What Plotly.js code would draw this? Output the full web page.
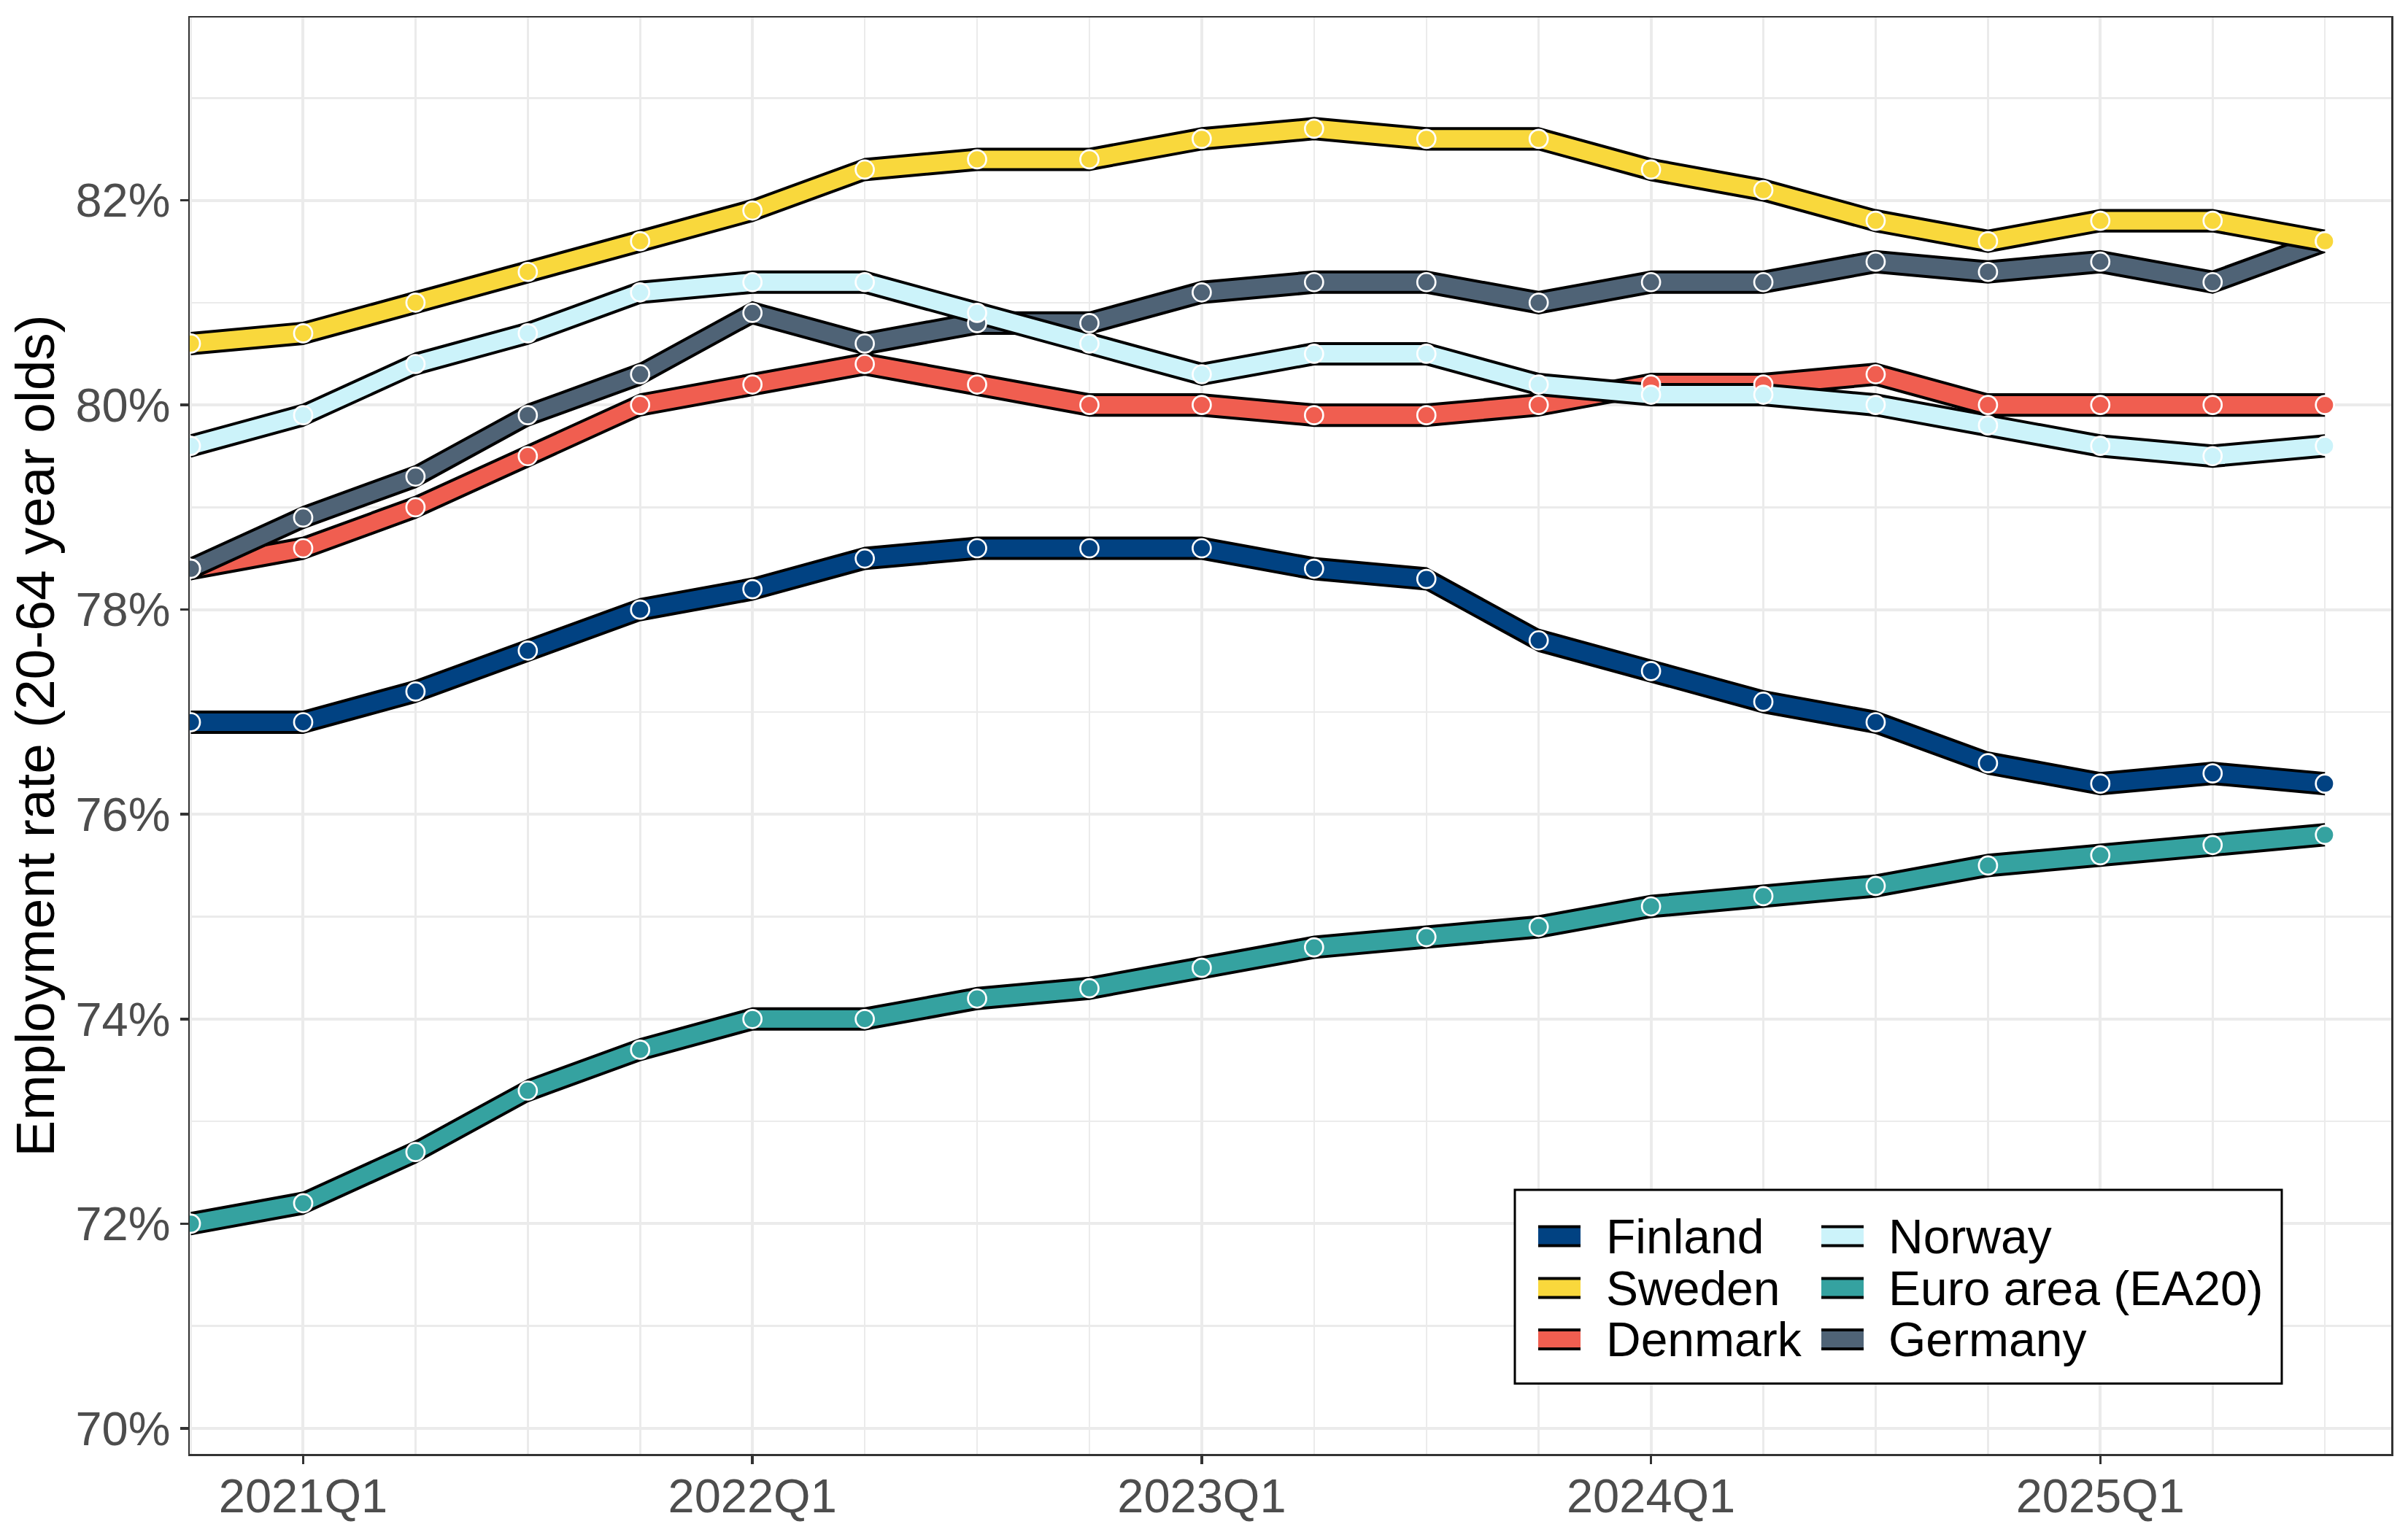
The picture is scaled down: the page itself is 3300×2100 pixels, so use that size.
<!DOCTYPE html>
<html>
<head>
<meta charset="utf-8">
<script src="https://cdn.plot.ly/plotly-3.0.1.min.js"></script>
<style>
  html, body { margin: 0; padding: 0; background: #ffffff; }
  #chart { width: 3300px; height: 2100px; }
</style>
</head>
<body>
<div id="chart"></div>
<script>
// ---------------- data ----------------
const quarters = ['2020Q4','2021Q1','2021Q2','2021Q3','2021Q4',
                  '2022Q1','2022Q2','2022Q3','2022Q4',
                  '2023Q1','2023Q2','2023Q3','2023Q4',
                  '2024Q1','2024Q2','2024Q3','2024Q4',
                  '2025Q1','2025Q2','2025Q3'];
const tickQuarters = ['2021Q1','2022Q1','2023Q1','2024Q1','2025Q1'];
const yTickValues = [70, 72, 74, 76, 78, 80, 82];
const yTickLabels = ['70%','72%','74%','76%','78%','80%','82%'];

const seriesNames = ['Finland','Sweden','Denmark','Norway','Euro area (EA20)','Germany'];
const finland = [76.9,76.9,77.2,77.6,78.0,78.2,78.5,78.6,78.6,78.6,78.4,78.3,77.7,77.4,77.1,76.9,76.5,76.3,76.4,76.3];
const sweden  = [80.6,80.7,81.0,81.3,81.6,81.9,82.3,82.4,82.4,82.6,82.7,82.6,82.6,82.3,82.1,81.8,81.6,81.8,81.8,81.6];
const denmark = [78.4,78.6,79.0,79.5,80.0,80.2,80.4,80.2,80.0,80.0,79.9,79.9,80.0,80.2,80.2,80.3,80.0,80.0,80.0,80.0];
const norway  = [79.6,79.9,80.4,80.7,81.1,81.2,81.2,80.9,80.6,80.3,80.5,80.5,80.2,80.1,80.1,80.0,79.8,79.6,79.5,79.6];
const euroArea = [72.0,72.2,72.7,73.3,73.7,74.0,74.0,74.2,74.3,74.5,74.7,74.8,74.9,75.1,75.2,75.3,75.5,75.6,75.7,75.8];
const germany = [78.4,78.9,79.3,79.9,80.3,80.9,80.6,80.8,80.8,81.1,81.2,81.2,81.0,81.2,81.2,81.4,81.3,81.4,81.2,81.6];

const seriesValues = {
  'Finland': finland, 'Sweden': sweden, 'Denmark': denmark,
  'Norway': norway, 'Euro area (EA20)': euroArea, 'Germany': germany
};
const seriesColors = {
  'Finland': '#014282', 'Sweden': '#F9D83C', 'Denmark': '#F05E50',
  'Norway': '#CCF3FA', 'Euro area (EA20)': '#35A2A0', 'Germany': '#4F6376'
};
// drawing order (alphabetical, as in the source)
const drawOrder = ['Denmark','Euro area (EA20)','Finland','Germany','Norway','Sweden'];

// ---------------- styling ----------------
const FONT = 'Liberation Sans, Arial, Helvetica, sans-serif';
const HALF = 0.1;           // half thickness of the band (in % points)
const EDGE_W = 4;
const W = 3300, H = 2100, ML = 260, MR = 23, MT = 24, MB = 107;
const PW = W - ML - MR, PH = H - MT - MB;
const px2x = px => (px - ML) / PW;
const py2y = py => (H - MB - py) / PH;

const xs = quarters.map((q, i) => i);
const traces = [];
drawOrder.forEach(name => {
  const v = seriesValues[name];
  traces.push({
    x: xs, y: v.map(d => d - HALF), mode: 'lines', type: 'scatter',
    line: { color: '#000000', width: EDGE_W }, showlegend: false, hoverinfo: 'skip'
  });
  traces.push({
    x: xs, y: v.map(d => d + HALF), mode: 'lines', type: 'scatter',
    fill: 'tonexty', fillcolor: seriesColors[name],
    line: { color: '#000000', width: EDGE_W }, showlegend: false, hoverinfo: 'skip'
  });
});
drawOrder.forEach(name => {
  traces.push({
    x: xs, y: seriesValues[name], mode: 'markers', type: 'scatter', name: name,
    marker: { size: 25, color: seriesColors[name], line: { color: '#FFFFFF', width: 2.7 } },
    showlegend: false, cliponaxis: true
  });
});

// ---------------- manual legend (two columns) ----------------
const legendCols = [['Finland','Sweden','Denmark'], ['Norway','Euro area (EA20)','Germany']];
const rowY = [1694.5, 1765.5, 1836];
const keyX = [[2108, 2166], [2496, 2554]];
const textX = [2199, 2586];
const KEY_HALF = 13;
const shapes = [{
  type: 'rect', xref: 'paper', yref: 'paper', layer: 'above',
  x0: px2x(2076), x1: px2x(3127), y0: py2y(1896.5), y1: py2y(1631),
  line: { color: '#000000', width: 3 }, fillcolor: '#FFFFFF'
}];
const annotations = [];
legendCols.forEach((col, c) => {
  col.forEach((name, r) => {
    const cy = rowY[r];
    shapes.push({
      type: 'rect', xref: 'paper', yref: 'paper', layer: 'above',
      x0: px2x(keyX[c][0]), x1: px2x(keyX[c][1]),
      y0: py2y(cy + KEY_HALF), y1: py2y(cy - KEY_HALF),
      line: { width: 0 }, fillcolor: seriesColors[name]
    });
    [-KEY_HALF, KEY_HALF].forEach(off => {
      shapes.push({
        type: 'line', xref: 'paper', yref: 'paper', layer: 'above',
        x0: px2x(keyX[c][0]), x1: px2x(keyX[c][1]),
        y0: py2y(cy + off), y1: py2y(cy + off),
        line: { color: '#000000', width: EDGE_W }
      });
    });
    annotations.push({
      xref: 'paper', yref: 'paper', x: px2x(textX[c]), y: py2y(cy),
      xanchor: 'left', yanchor: 'middle', showarrow: false, text: name,
      font: { family: FONT, size: 66, color: '#000000' }
    });
  });
});

const gridMajor = '#EBEBEB';
const layout = {
  width: W, height: H,
  margin: { l: ML, r: MR, t: MT, b: MB, pad: 0 },
  paper_bgcolor: '#FFFFFF', plot_bgcolor: '#FFFFFF',
  font: { family: FONT, color: '#4D4D4D' },
  showlegend: false,
  xaxis: {
    range: [-0.01, 19.59], zeroline: false,
    tickmode: 'array',
    tickvals: tickQuarters.map(q => quarters.indexOf(q)),
    ticktext: tickQuarters,
    tickfont: { family: FONT, size: 65, color: '#4D4D4D' },
    ticks: 'outside', ticklen: 11, tickwidth: 3.5, tickcolor: '#333333',
    ticklabelstandoff: -12,
    showgrid: true, gridcolor: gridMajor, gridwidth: 4,
    minor: { tickmode: 'linear', tick0: 0, dtick: 1, showgrid: true, gridcolor: gridMajor, gridwidth: 2.5, ticks: '' },
    showline: true, linecolor: '#333333', linewidth: 2.5, mirror: true
  },
  yaxis: {
    range: [69.75, 83.786], zeroline: false,
    tickmode: 'array', tickvals: yTickValues, ticktext: yTickLabels,
    tickfont: { family: FONT, size: 65, color: '#4D4D4D' },
    ticks: 'outside', ticklen: 11, tickwidth: 3.5, tickcolor: '#333333',
    showgrid: true, gridcolor: gridMajor, gridwidth: 4,
    minor: { tickmode: 'linear', tick0: 70, dtick: 1, showgrid: true, gridcolor: gridMajor, gridwidth: 2.5, ticks: '' },
    showline: true, linecolor: '#333333', linewidth: 2.5, mirror: true,
    title: { text: 'Employment rate (20-64 year olds)', font: { family: FONT, size: 75, color: '#000000' }, standoff: 4 }
  },
  shapes: shapes,
  annotations: annotations
};

Plotly.newPlot('chart', traces, layout, { displayModeBar: false, staticPlot: true });
</script>
</body>
</html>
